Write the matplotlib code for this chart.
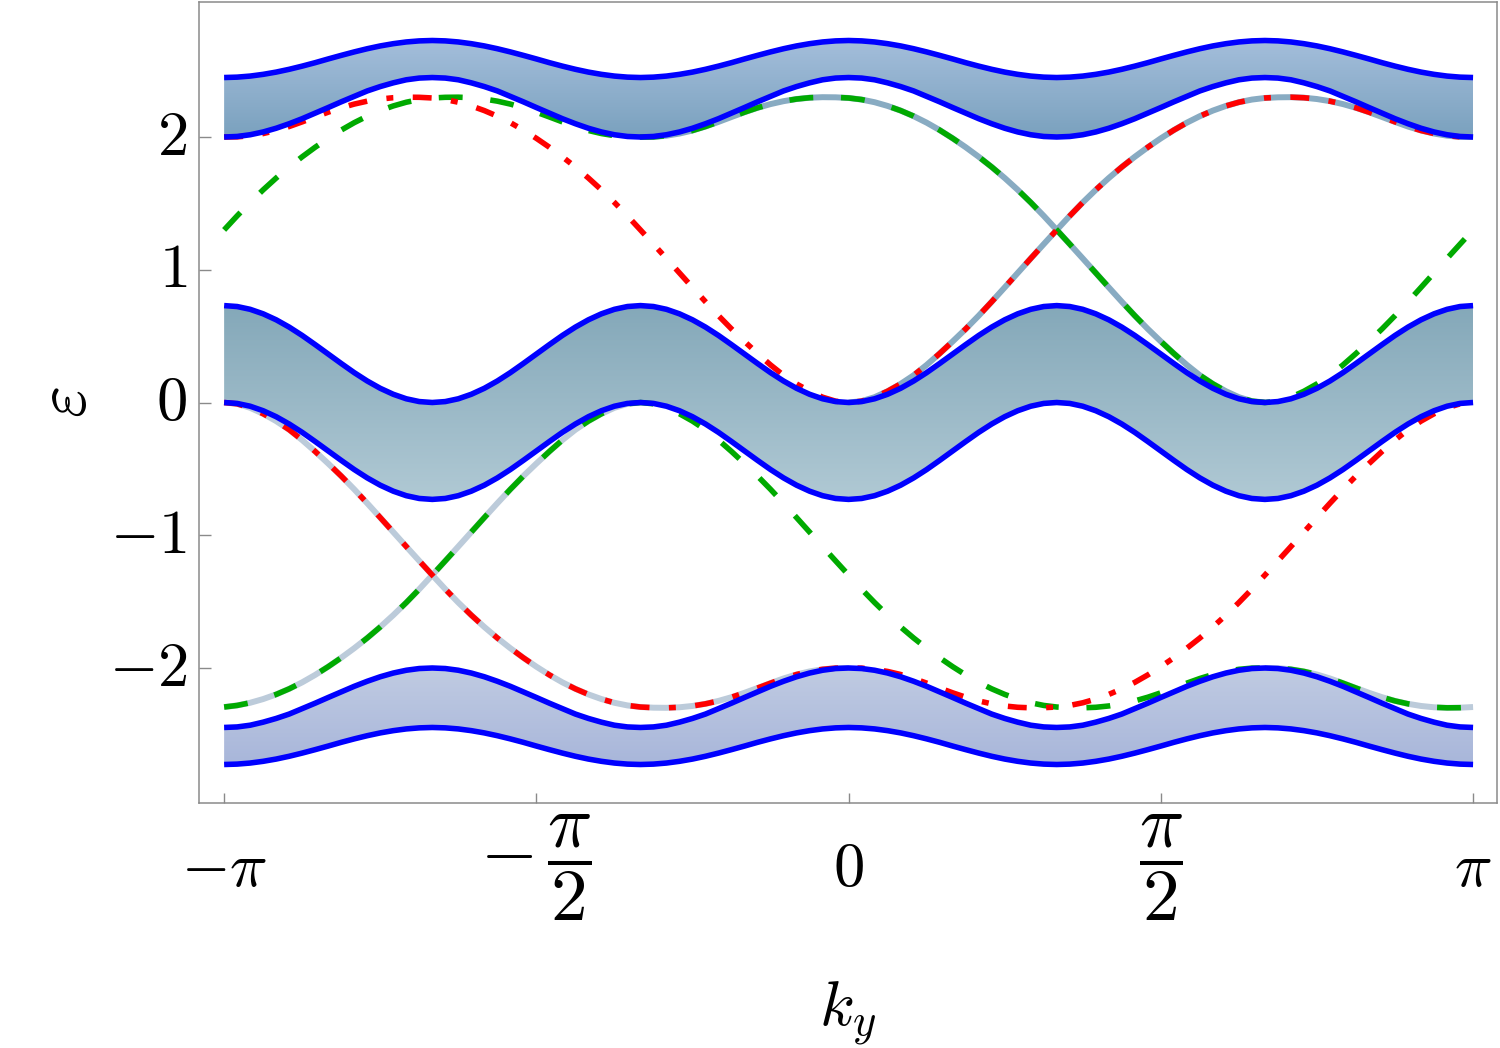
import numpy as np
import matplotlib
matplotlib.use("Agg")
import matplotlib.pyplot as plt
from matplotlib.colors import LinearSegmentedColormap

plt.rcParams['mathtext.fontset'] = 'cm'
plt.rcParams['font.family'] = ['DejaVu Serif']

# ---------------- data ----------------
# k_y sample grid: -pi ... pi in steps of pi/48
KY = np.pi * np.arange(-48, 49) / 48.0

TOP_UPPER = [
    2.448, 2.451, 2.459, 2.472, 2.489, 2.510, 2.534, 2.560, 2.588, 2.615, 2.641, 2.665, 2.686, 2.703, 2.716, 2.724,
    2.727, 2.724, 2.716, 2.703, 2.686, 2.665, 2.641, 2.615, 2.588, 2.560, 2.534, 2.510, 2.489, 2.472, 2.459, 2.451,
    2.448, 2.451, 2.459, 2.472, 2.489, 2.510, 2.534, 2.560, 2.588, 2.615, 2.641, 2.665, 2.686, 2.703, 2.716, 2.724,
    2.727, 2.724, 2.716, 2.703, 2.686, 2.665, 2.641, 2.615, 2.588, 2.560, 2.534, 2.510, 2.489, 2.472, 2.459, 2.451,
    2.448, 2.451, 2.459, 2.472, 2.489, 2.510, 2.534, 2.560, 2.588, 2.615, 2.641, 2.665, 2.686, 2.703, 2.716, 2.724,
    2.727, 2.724, 2.716, 2.703, 2.686, 2.665, 2.641, 2.615, 2.588, 2.560, 2.534, 2.510, 2.489, 2.472, 2.459, 2.451,
    2.448]
TOP_LOWER = [
    2.000, 2.004, 2.017, 2.038, 2.066, 2.100, 2.138, 2.180, 2.222, 2.265, 2.306, 2.347, 2.380, 2.408, 2.431, 2.444,
    2.448, 2.444, 2.431, 2.408, 2.380, 2.347, 2.306, 2.265, 2.222, 2.180, 2.138, 2.100, 2.066, 2.038, 2.017, 2.004,
    2.000, 2.004, 2.017, 2.038, 2.066, 2.100, 2.138, 2.180, 2.222, 2.265, 2.306, 2.347, 2.380, 2.408, 2.431, 2.444,
    2.448, 2.444, 2.431, 2.408, 2.380, 2.347, 2.306, 2.265, 2.222, 2.180, 2.138, 2.100, 2.066, 2.038, 2.017, 2.004,
    2.000, 2.004, 2.017, 2.038, 2.066, 2.100, 2.138, 2.180, 2.222, 2.265, 2.306, 2.347, 2.380, 2.408, 2.431, 2.444,
    2.448, 2.444, 2.431, 2.408, 2.380, 2.347, 2.306, 2.265, 2.222, 2.180, 2.138, 2.100, 2.066, 2.038, 2.017, 2.004,
    2.000]
MID_UPPER = [
    0.730, 0.723, 0.702, 0.668, 0.623, 0.568, 0.505, 0.436, 0.365, 0.294, 0.225, 0.162, 0.107, 0.062, 0.028, 0.007,
    0.000, 0.007, 0.028, 0.062, 0.107, 0.162, 0.225, 0.294, 0.365, 0.436, 0.505, 0.568, 0.623, 0.668, 0.702, 0.723,
    0.730, 0.723, 0.702, 0.668, 0.623, 0.568, 0.505, 0.436, 0.365, 0.294, 0.225, 0.162, 0.107, 0.062, 0.028, 0.007,
    0.000, 0.007, 0.028, 0.062, 0.107, 0.162, 0.225, 0.294, 0.365, 0.436, 0.505, 0.568, 0.623, 0.668, 0.702, 0.723,
    0.730, 0.723, 0.702, 0.668, 0.623, 0.568, 0.505, 0.436, 0.365, 0.294, 0.225, 0.162, 0.107, 0.062, 0.028, 0.007,
    0.000, 0.007, 0.028, 0.062, 0.107, 0.162, 0.225, 0.294, 0.365, 0.436, 0.505, 0.568, 0.623, 0.668, 0.702, 0.723,
    0.730]
MID_LOWER = [
    0.000, -0.007, -0.028, -0.062, -0.107, -0.162, -0.225, -0.294, -0.365, -0.436, -0.505, -0.568, -0.623, -0.668, -0.702, -0.723,
    -0.730, -0.723, -0.702, -0.668, -0.623, -0.568, -0.505, -0.436, -0.365, -0.294, -0.225, -0.162, -0.107, -0.062, -0.028, -0.007,
    0.000, -0.007, -0.028, -0.062, -0.107, -0.162, -0.225, -0.294, -0.365, -0.436, -0.505, -0.568, -0.623, -0.668, -0.702, -0.723,
    -0.730, -0.723, -0.702, -0.668, -0.623, -0.568, -0.505, -0.436, -0.365, -0.294, -0.225, -0.162, -0.107, -0.062, -0.028, -0.007,
    0.000, -0.007, -0.028, -0.062, -0.107, -0.162, -0.225, -0.294, -0.365, -0.436, -0.505, -0.568, -0.623, -0.668, -0.702, -0.723,
    -0.730, -0.723, -0.702, -0.668, -0.623, -0.568, -0.505, -0.436, -0.365, -0.294, -0.225, -0.162, -0.107, -0.062, -0.028, -0.007,
    0.000]
BOT_UPPER = [
    -2.448, -2.444, -2.431, -2.408, -2.380, -2.347, -2.306, -2.265, -2.222, -2.180, -2.138, -2.100, -2.066, -2.038, -2.017, -2.004,
    -2.000, -2.004, -2.017, -2.038, -2.066, -2.100, -2.138, -2.180, -2.222, -2.265, -2.306, -2.347, -2.380, -2.408, -2.431, -2.444,
    -2.448, -2.444, -2.431, -2.408, -2.380, -2.347, -2.306, -2.265, -2.222, -2.180, -2.138, -2.100, -2.066, -2.038, -2.017, -2.004,
    -2.000, -2.004, -2.017, -2.038, -2.066, -2.100, -2.138, -2.180, -2.222, -2.265, -2.306, -2.347, -2.380, -2.408, -2.431, -2.444,
    -2.448, -2.444, -2.431, -2.408, -2.380, -2.347, -2.306, -2.265, -2.222, -2.180, -2.138, -2.100, -2.066, -2.038, -2.017, -2.004,
    -2.000, -2.004, -2.017, -2.038, -2.066, -2.100, -2.138, -2.180, -2.222, -2.265, -2.306, -2.347, -2.380, -2.408, -2.431, -2.444,
    -2.448]
BOT_LOWER = [
    -2.727, -2.724, -2.716, -2.703, -2.686, -2.665, -2.641, -2.615, -2.588, -2.560, -2.534, -2.510, -2.489, -2.472, -2.459, -2.451,
    -2.448, -2.451, -2.459, -2.472, -2.489, -2.510, -2.534, -2.560, -2.588, -2.615, -2.641, -2.665, -2.686, -2.703, -2.716, -2.724,
    -2.727, -2.724, -2.716, -2.703, -2.686, -2.665, -2.641, -2.615, -2.588, -2.560, -2.534, -2.510, -2.489, -2.472, -2.459, -2.451,
    -2.448, -2.451, -2.459, -2.472, -2.489, -2.510, -2.534, -2.560, -2.588, -2.615, -2.641, -2.665, -2.686, -2.703, -2.716, -2.724,
    -2.727, -2.724, -2.716, -2.703, -2.686, -2.665, -2.641, -2.615, -2.588, -2.560, -2.534, -2.510, -2.489, -2.472, -2.459, -2.451,
    -2.448, -2.451, -2.459, -2.472, -2.489, -2.510, -2.534, -2.560, -2.588, -2.615, -2.641, -2.665, -2.686, -2.703, -2.716, -2.724,
    -2.727]

RED_UPPER = [
    2.000, 2.001, 2.010, 2.026, 2.049, 2.079, 2.114, 2.151, 2.187, 2.220, 2.248, 2.270, 2.286, 2.296, 2.300, 2.299,
    2.294, 2.282, 2.262, 2.234, 2.199, 2.157, 2.108, 2.052, 1.990, 1.923, 1.851, 1.774, 1.691, 1.602, 1.507, 1.406,
    1.300, 1.193, 1.085, 0.976, 0.867, 0.759, 0.654, 0.554, 0.460, 0.369, 0.283, 0.205, 0.140, 0.085, 0.040, 0.010,
    0.000,
    0.010, 0.040, 0.085, 0.140, 0.205, 0.283, 0.369, 0.460, 0.554, 0.654, 0.759, 0.867, 0.976, 1.085, 1.193, 1.300,
    1.406, 1.507, 1.602, 1.691, 1.774, 1.851, 1.923, 1.990, 2.052, 2.108, 2.157, 2.199, 2.234, 2.262, 2.282, 2.294,
    2.299, 2.300, 2.296, 2.286, 2.270, 2.248, 2.220, 2.187, 2.151, 2.114, 2.079, 2.049, 2.026, 2.010, 2.001, 2.000]
RED_LOWER = [
    0.000, -0.010, -0.040, -0.085, -0.140, -0.205, -0.283, -0.369, -0.460, -0.554, -0.654, -0.759, -0.867, -0.976, -1.085, -1.193,
    -1.300, -1.406, -1.507, -1.602, -1.691, -1.774, -1.851, -1.923, -1.990, -2.052, -2.108, -2.157, -2.199, -2.234, -2.262, -2.282,
    -2.294, -2.299, -2.300, -2.296, -2.286, -2.270, -2.248, -2.220, -2.187, -2.151, -2.114, -2.079, -2.049, -2.026, -2.010, -2.001,
    -2.000,
    -2.001, -2.010, -2.026, -2.049, -2.079, -2.114, -2.151, -2.187, -2.220, -2.248, -2.270, -2.286, -2.296, -2.300, -2.299, -2.294,
    -2.282, -2.262, -2.234, -2.199, -2.157, -2.108, -2.052, -1.990, -1.923, -1.851, -1.774, -1.691, -1.602, -1.507, -1.406, -1.300,
    -1.193, -1.085, -0.976, -0.867, -0.759, -0.654, -0.554, -0.460, -0.369, -0.283, -0.205, -0.140, -0.085, -0.040, -0.010, 0.000]
GREEN_UPPER = [
    1.300, 1.406, 1.507, 1.602, 1.691, 1.774, 1.851, 1.923, 1.990, 2.052, 2.108, 2.157, 2.199, 2.234, 2.262, 2.282,
    2.294, 2.299, 2.300, 2.296, 2.286, 2.270, 2.248, 2.220, 2.187, 2.151, 2.114, 2.079, 2.049, 2.026, 2.010, 2.001,
    2.000, 2.001, 2.010, 2.026, 2.049, 2.079, 2.114, 2.151, 2.187, 2.220, 2.248, 2.270, 2.286, 2.296, 2.300, 2.299,
    2.294, 2.282, 2.262, 2.234, 2.199, 2.157, 2.108, 2.052, 1.990, 1.923, 1.851, 1.774, 1.691, 1.602, 1.507, 1.406,
    1.300, 1.193, 1.085, 0.976, 0.867, 0.759, 0.654, 0.554, 0.460, 0.369, 0.283, 0.205, 0.140, 0.085, 0.040, 0.010,
    0.000, 0.010, 0.040, 0.085, 0.140, 0.205, 0.283, 0.369, 0.460, 0.554, 0.654, 0.759, 0.867, 0.976, 1.085, 1.193,
    1.300]
GREEN_LOWER = [
    -2.294, -2.282, -2.262, -2.234, -2.199, -2.157, -2.108, -2.052, -1.990, -1.923, -1.851, -1.774, -1.691, -1.602, -1.507, -1.406,
    -1.300, -1.193, -1.085, -0.976, -0.867, -0.759, -0.654, -0.554, -0.460, -0.369, -0.283, -0.205, -0.140, -0.085, -0.040, -0.010,
    0.000, -0.010, -0.040, -0.085, -0.140, -0.205, -0.283, -0.369, -0.460, -0.554, -0.654, -0.759, -0.867, -0.976, -1.085, -1.193,
    -1.300, -1.406, -1.507, -1.602, -1.691, -1.774, -1.851, -1.923, -1.990, -2.052, -2.108, -2.157, -2.199, -2.234, -2.262, -2.282,
    -2.294, -2.299, -2.300, -2.296, -2.286, -2.270, -2.248, -2.220, -2.187, -2.151, -2.114, -2.079, -2.049, -2.026, -2.010, -2.001,
    -2.000, -2.001, -2.010, -2.026, -2.049, -2.079, -2.114, -2.151, -2.187, -2.220, -2.248, -2.270, -2.286, -2.296, -2.300, -2.299,
    -2.294]

# k-ranges where the (light) ribbon edge-state curves are visible
LIGHT_RED_UPPER_RANGE = (0.0, np.pi)
LIGHT_GREEN_UPPER_RANGE = (-np.pi / 3, 2 * np.pi / 3)
LIGHT_RED_LOWER_RANGE = (-np.pi, 0.0)
LIGHT_GREEN_LOWER_RANGES = [(-np.pi, -np.pi / 3), (2 * np.pi / 3, np.pi)]

X_TICKS = [-np.pi, -np.pi / 2, 0, np.pi / 2, np.pi]
X_TICK_LABELS = [r'$-\pi$', r'$-\,\dfrac{\pi}{2}$', r'$0$', r'$\dfrac{\pi}{2}$', r'$\pi$']
Y_TICKS = [-2, -1, 0, 1, 2]
Y_TICK_LABELS = [r'$-2$', r'$-1$', r'$0$', r'$1$', r'$2$']

# ---------------- figure ----------------
fig = plt.figure(figsize=(15, 10.48), dpi=100)
ax = fig.add_axes([199 / 1500, 1 - 803 / 1048, 1298 / 1500, 801 / 1048])

def gradient_band(lo, hi, c_top, c_bot, z=1):
    lo = np.asarray(lo); hi = np.asarray(hi)
    poly = ax.fill_between(KY, lo, hi, facecolor='none', edgecolor='none', zorder=z)
    path = poly.get_paths()[0]
    cmap = LinearSegmentedColormap.from_list('band', [c_bot, c_top])
    grad = np.linspace(0, 1, 256).reshape(-1, 1)
    im = ax.imshow(grad, extent=[KY[0], KY[-1], lo.min(), hi.max()], origin='lower',
                   cmap=cmap, aspect='auto', zorder=z, interpolation='bilinear')
    im.set_clip_path(path, transform=ax.transData)

gradient_band(TOP_LOWER, TOP_UPPER, '#a4bedb', '#7aa1be')
gradient_band(MID_LOWER, MID_UPPER, '#84a8b9', '#b0c9d4')
gradient_band(BOT_LOWER, BOT_UPPER, '#c0cbe2', '#a8b6da')

def in_range(rng):
    a, b = rng
    return (KY >= a - 1e-9) & (KY <= b + 1e-9)

LW = 4.0
light_up = '#88abc2'
light_lo = '#bccbda'
kw_light = dict(lw=LW + 0.3, zorder=2, solid_capstyle='butt', solid_joinstyle='round')
ax.plot(KY, np.where(in_range(LIGHT_RED_UPPER_RANGE), RED_UPPER, np.nan), color=light_up, **kw_light)
ax.plot(KY, np.where(in_range(LIGHT_GREEN_UPPER_RANGE), GREEN_UPPER, np.nan), color=light_up, **kw_light)
ax.plot(KY, np.where(in_range(LIGHT_RED_LOWER_RANGE), RED_LOWER, np.nan), color=light_lo, **kw_light)
for rng in LIGHT_GREEN_LOWER_RANGES:
    ax.plot(KY, np.where(in_range(rng), GREEN_LOWER, np.nan), color=light_lo, **kw_light)

green_ls = (0, (4.3, 5.0))
red_ls = (0, (3.4, 3.5, 1.25, 3.5))
ax.plot(KY, GREEN_UPPER, color='#00aa00', lw=LW, ls=green_ls, zorder=3)
ax.plot(KY, GREEN_LOWER, color='#00aa00', lw=LW, ls=green_ls, zorder=3)
ax.plot(KY, RED_UPPER, color='#ff0000', lw=LW, ls=red_ls, zorder=4)
ax.plot(KY, RED_LOWER, color='#ff0000', lw=LW, ls=red_ls, zorder=4)

for edge in (TOP_UPPER, TOP_LOWER, MID_UPPER, MID_LOWER, BOT_UPPER, BOT_LOWER):
    ax.plot(KY, edge, color='#0000ff', lw=LW, zorder=5, solid_capstyle='butt', solid_joinstyle='round')

ax.set_xlim(-3.268, 3.262)
ax.set_ylim(-3.017, 3.017)

ax.set_xticks(X_TICKS, X_TICK_LABELS, fontsize=45)
ax.set_yticks(Y_TICKS, Y_TICK_LABELS, fontsize=45)
ax.tick_params(axis='x', direction='in', length=7.5, width=1.0, color='#8a8a8a', pad=47)
ax.tick_params(axis='y', direction='in', length=8.5, width=1.0, color='#8a8a8a', pad=8.5)
for i, lbl in enumerate(ax.get_xticklabels()):
    lbl.set_verticalalignment('center')
    if i in (1, 3):
        lbl.set_fontsize(53)
for lbl in ax.get_yticklabels():
    lbl.set_verticalalignment('center')

for sp in ax.spines.values():
    sp.set_color('#8a8a8a')
    sp.set_linewidth(1.1)

ax.set_xlabel(r'$k_y$', fontsize=46, va='center')
ax.xaxis.set_label_coords(0.5, -0.263)
ax.set_ylabel(r'$\varepsilon$', fontsize=50, va='center', rotation=90)
ax.yaxis.set_label_coords(-0.1025, 0.5)

fig.savefig('out.png', dpi=100)
